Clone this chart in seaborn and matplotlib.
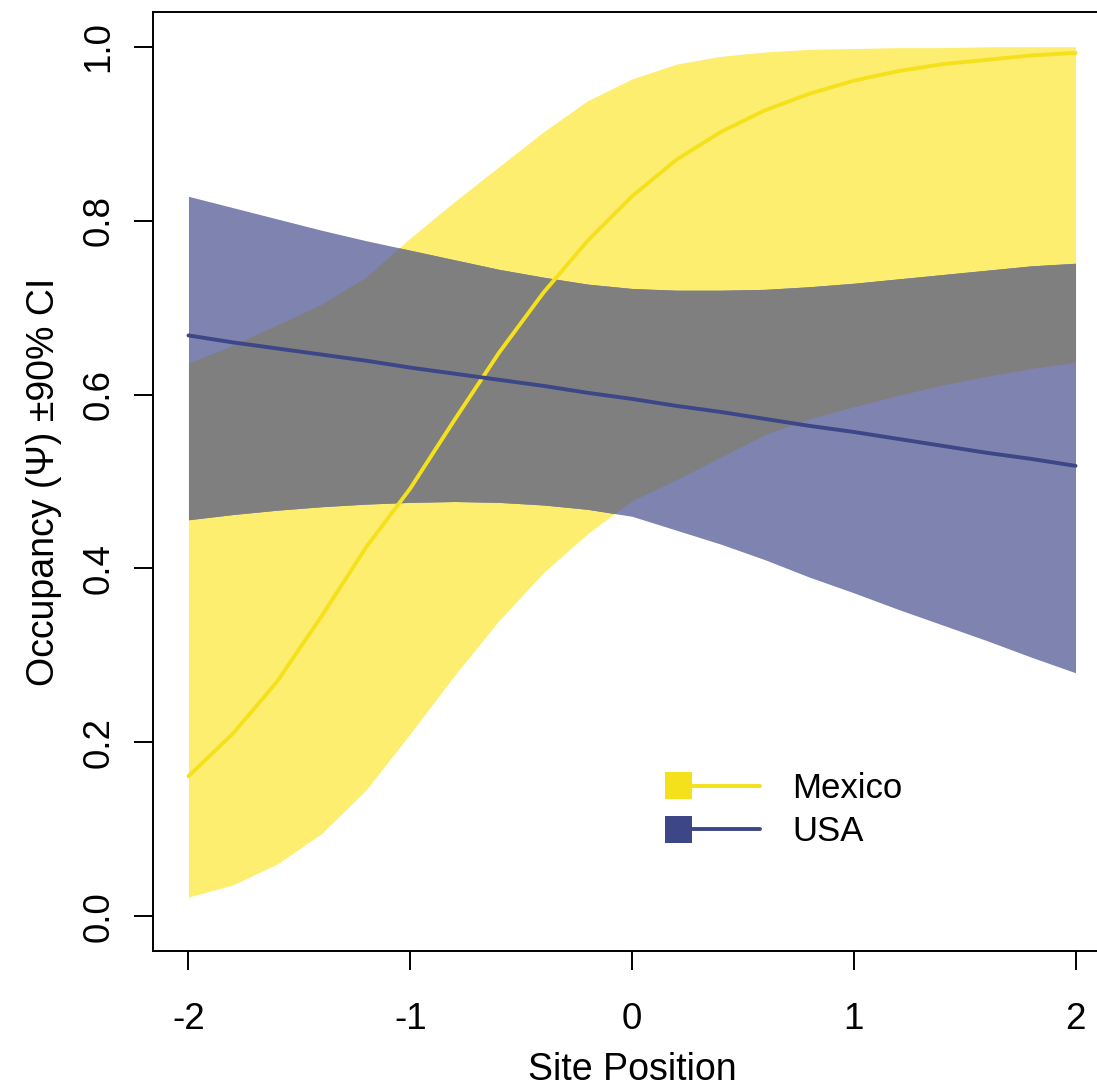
import numpy as np
import pandas as pd
import matplotlib
matplotlib.use("Agg")
import matplotlib.pyplot as plt
import seaborn as sns
from matplotlib.lines import Line2D
from matplotlib.patches import Rectangle
from matplotlib.legend_handler import HandlerBase

# ---- data -------------------------------------------------------------
site_position = [-2.0, -1.8, -1.6, -1.4, -1.2, -1.0, -0.8, -0.6, -0.4, -0.2, 0.0,
                 0.2, 0.4, 0.6, 0.8, 1.0, 1.2, 1.4, 1.6, 1.8, 2.0]

mexico_psi = [0.161, 0.210, 0.270, 0.345, 0.424, 0.492, 0.571, 0.648, 0.717, 0.777, 0.828,
              0.870, 0.902, 0.927, 0.946, 0.961, 0.972, 0.980, 0.985, 0.990, 0.993]
mexico_lo = [0.022, 0.036, 0.060, 0.095, 0.145, 0.210, 0.277, 0.340, 0.395, 0.440, 0.478,
             0.502, 0.528, 0.554, 0.572, 0.586, 0.599, 0.611, 0.621, 0.630, 0.637]
mexico_hi = [0.636, 0.657, 0.680, 0.704, 0.735, 0.780, 0.822, 0.862, 0.902, 0.938, 0.963,
             0.980, 0.989, 0.994, 0.997, 0.998, 0.999, 0.999, 1.000, 1.000, 1.000]

usa_psi = [0.668, 0.660, 0.653, 0.646, 0.639, 0.631, 0.624, 0.617, 0.610, 0.602, 0.595,
           0.587, 0.580, 0.572, 0.564, 0.557, 0.549, 0.541, 0.533, 0.526, 0.518]
usa_lo = [0.456, 0.462, 0.467, 0.471, 0.474, 0.476, 0.477, 0.476, 0.473, 0.468, 0.460,
          0.444, 0.428, 0.410, 0.390, 0.372, 0.353, 0.335, 0.317, 0.298, 0.280]
usa_hi = [0.828, 0.815, 0.802, 0.789, 0.777, 0.766, 0.755, 0.744, 0.735, 0.727, 0.722,
          0.720, 0.720, 0.721, 0.724, 0.728, 0.733, 0.738, 0.743, 0.748, 0.751]

x_ticks = [-2, -1, 0, 1, 2]
x_tick_labels = ["-2", "-1", "0", "1", "2"]
y_ticks = [0.0, 0.2, 0.4, 0.6, 0.8, 1.0]
y_tick_labels = ["0.0", "0.2", "0.4", "0.6", "0.8", "1.0"]

# ---- style ------------------------------------------------------------
sns.set_style("ticks")
plt.rcParams["font.family"] = ["Liberation Sans", "DejaVu Sans"]
plt.rcParams["axes.unicode_minus"] = False
plt.rcParams["text.color"] = "black"
plt.rcParams["axes.labelcolor"] = "black"
plt.rcParams["xtick.color"] = "black"
plt.rcParams["ytick.color"] = "black"

MEX_LINE = "#F5E11B"
MEX_FILL = "#FDEE70"
USA_LINE = "#3D4787"
USA_FILL = "#7F83B0"
BOTH_FILL = "#7F7F7F"

fig = plt.figure(figsize=(10.97, 10.88), dpi=100)
ax = fig.add_axes([153 / 1097, 137 / 1088, 958 / 1097, 939 / 1088])

x = np.asarray(site_position)

# credible bands
ax.fill_between(x, mexico_lo, mexico_hi, color=MEX_FILL, linewidth=0, zorder=1)
ax.fill_between(x, usa_lo, usa_hi, color=USA_FILL, linewidth=0, zorder=2)

# region covered by both bands
xd = np.linspace(x[0], x[-1], 1601)
lo = np.maximum(np.interp(xd, x, mexico_lo), np.interp(xd, x, usa_lo))
hi = np.minimum(np.interp(xd, x, mexico_hi), np.interp(xd, x, usa_hi))
ax.fill_between(xd, lo, hi, where=hi > lo, interpolate=True,
                color=BOTH_FILL, linewidth=0, zorder=3)

# mean occupancy lines
df = pd.DataFrame({
    "Site Position": list(site_position) * 2,
    "psi": mexico_psi + usa_psi,
    "Country": ["Mexico"] * len(site_position) + ["USA"] * len(site_position),
})
sns.lineplot(data=df[df.Country == "Mexico"], x="Site Position", y="psi",
             color=MEX_LINE, linewidth=2.8, ax=ax, zorder=4, legend=False)
sns.lineplot(data=df[df.Country == "USA"], x="Site Position", y="psi",
             color=USA_LINE, linewidth=2.8, ax=ax, zorder=5, legend=False)

ax.set_xlim(-2.16, 2.16)
ax.set_ylim(-0.04, 1.04)
ax.set_xticks(x_ticks)
ax.set_xticklabels(x_tick_labels)
ax.set_yticks(y_ticks)
ax.set_yticklabels(y_tick_labels, rotation=90, va="center")

for side in ["left", "bottom", "top", "right"]:
    ax.spines[side].set_visible(True)
    ax.spines[side].set_linewidth(1.4)
    ax.spines[side].set_color("black")

ax.tick_params(axis="both", direction="out", length=13.5, width=1.4,
               labelsize=26.5, colors="black")
ax.tick_params(axis="x", pad=23)
ax.tick_params(axis="y", pad=13)

ax.set_xlabel("Site Position", fontsize=27, labelpad=11)
ax.set_ylabel("Occupancy (\u03a8) \u00b190% CI", fontsize=27, labelpad=14)


class SquareLineHandler(HandlerBase):
    """Filled square on the left with a line running out to the right."""

    def create_artists(self, legend, orig_handle, xdescent, ydescent,
                       width, height, fontsize, trans):
        color = orig_handle.get_color()
        size = 19.5
        yc = height / 2 - ydescent
        x0 = -xdescent
        sq = Rectangle((x0, yc - size / 2), size, size, facecolor=color,
                       edgecolor="none", transform=trans)
        ln = Line2D([x0 + size, x0 + width], [yc, yc], color=color,
                    linewidth=2.8, transform=trans)
        return [sq, ln]


handles = [Line2D([], [], color=MEX_LINE), Line2D([], [], color=USA_LINE)]
ax.legend(handles, ["Mexico", "USA"],
          handler_map={Line2D: SquareLineHandler()},
          loc="center left", bbox_to_anchor=(0.5345, 0.150),
          frameon=False, fontsize=25, handlelength=2.74, handletextpad=0.92,
          labelspacing=0.3, borderpad=0, borderaxespad=0)

fig.savefig("out.png", dpi=100)
